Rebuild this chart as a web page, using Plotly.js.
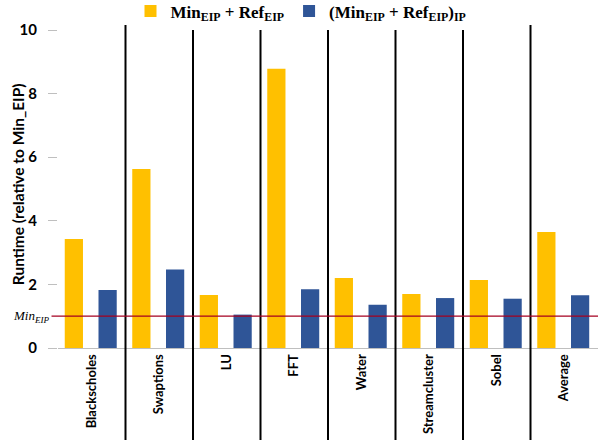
<!DOCTYPE html>
<html><head><meta charset="utf-8">
<script src="https://cdn.plot.ly/plotly-3.0.1.min.js"></script>
<style>html,body{margin:0;padding:0;background:#fff}#c{width:600px;height:440px}</style>
</head><body><div id="c"></div>
<script>
const categories = ["Blackscholes","Swaptions","LU","FFT","Water","Streamcluster","Sobel","Average"];
const minRef = [3.43, 5.63, 1.67, 8.78, 2.2, 1.7, 2.14, 3.65];
const minRefIP = [1.82, 2.47, 1.05, 1.85, 1.36, 1.57, 1.55, 1.66];
const yTicks = [0, 2, 4, 6, 8, 10];
const minEIP = 1;
const yTitle = 'Runtime (relative to Min_EIP)';

const traces = [
  {type:'bar', x:categories, y:minRef, name:'<b>Min<sub>EIP</sub> + Ref<sub>EIP</sub></b>',
   marker:{color:'#FFC000'}, width:0.27, offset:-0.4},
  {type:'bar', x:categories, y:minRefIP, name:'<b>(Min<sub>EIP</sub> + Ref<sub>EIP</sub>)<sub>IP</sub></b>',
   marker:{color:'#2F5597'}, width:0.27, offset:0.1}
];

const n = categories.length;
const shapes = [];
for (let i = 1; i < n; i++) {
  shapes.push({type:'line', xref:'paper', yref:'paper', x0:i/n, x1:i/n, y0:-0.3, y1:1.016,
    line:{color:'#000', width:2}});
}
shapes.push({type:'line', xref:'paper', yref:'y', x0:-0.012, x1:1, y0:minEIP, y1:minEIP,
  line:{color:'#A50021', width:1.2}});

const layout = {
  width:600, height:440,
  margin:{l:58, r:2, t:30, b:92, autoexpand:false},
  paper_bgcolor:'#fff', plot_bgcolor:'#fff',
  barmode:'group',
  showlegend:true,
  legend:{orientation:'h', x:0.45, xanchor:'center', y:1.058, yanchor:'middle',
    font:{family:'Liberation Serif', size:17, color:'#000'}, itemwidth:30, tracegroupgap:0},
  xaxis:{type:'category', range:[-0.5, n-0.5], showline:true, linecolor:'#BFBFBF', linewidth:1,
    ticks:'', tickangle:-90, tickfont:{family:'Lato', size:13, color:'#000', weight:'bold'},
    showgrid:false, zeroline:false, fixedrange:true},
  yaxis:{range:[0,10], tickvals:yTicks, ticktext:yTicks.map(String), showgrid:false, zeroline:false,
    showline:false, ticks:'outside', ticklen:9, tickcolor:'#BFBFBF', ticklabelstandoff:8,
    tickfont:{family:'Lato', size:15, color:'#000', weight:'bold'}},
  shapes:shapes,
  annotations:[
    {xref:'paper', yref:'y', x:-0.012, y:minEIP, xanchor:'right', yanchor:'middle', showarrow:false,
     text:'<i>Min<sub>EIP</sub></i>', font:{family:'Liberation Serif', size:13, color:'#000'}},
    {xref:'paper', yref:'paper', x:-0.074, y:0.515, xanchor:'center', yanchor:'middle', showarrow:false,
     textangle:-90, text:yTitle, font:{family:'Lato', size:15.5, color:'#000', weight:'bold'}}
  ]
};
Plotly.newPlot('c', traces, layout, {displayModeBar:false, staticPlot:true});
</script></body></html>
